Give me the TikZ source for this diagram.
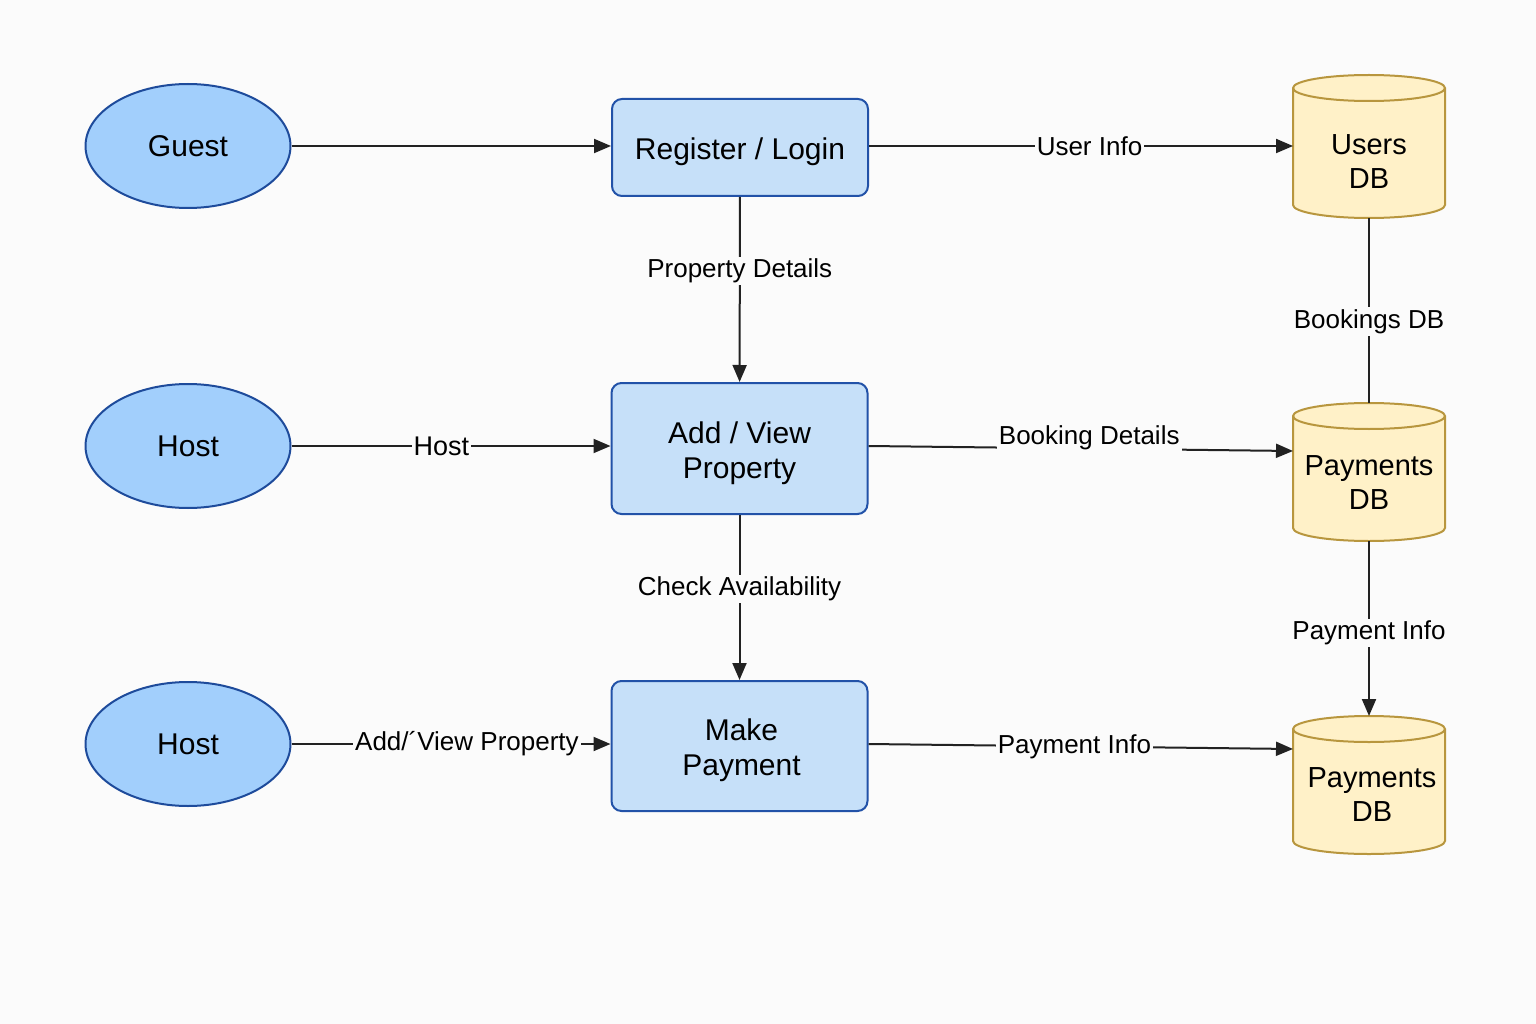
\documentclass[tikz,border=0pt]{standalone}
\usepackage{fontspec}
\setmainfont{Liberation Sans}
\usetikzlibrary{arrows.meta,shapes.geometric}
\definecolor{bg}{HTML}{FBFBFB}
\definecolor{entfill}{HTML}{A2CFFC}
\definecolor{entdraw}{HTML}{1E4B9B}
\definecolor{procfill}{HTML}{C6E0F9}
\definecolor{procdraw}{HTML}{2252A8}
\definecolor{dbfill}{HTML}{FFF1C8}
\definecolor{dbdraw}{HTML}{B8963E}
\definecolor{ln}{HTML}{222222}
\begin{document}
\begin{tikzpicture}[x=1pt,y=-1pt,
 entity/.style={ellipse, draw=entdraw, fill=entfill, line width=2pt, minimum width=205pt, minimum height=124pt, font=\fontsize{30}{35}\selectfont, inner sep=0pt},
 process/.style={rectangle, rounded corners=10pt, draw=procdraw, fill=procfill, line width=2pt, inner sep=0pt, minimum width=256pt},
 proctext/.style={font=\fontsize{30}{35}\selectfont, align=center, inner sep=0pt},
 dbbox/.style={rectangle, minimum width=152pt, inner sep=0pt, outer sep=0pt, draw=none},
 dbshape/.style={fill=dbfill, draw=dbdraw, line width=2pt},
 dbtext/.style={font=\fontsize{29}{34}\selectfont, align=center},
 flow/.style={draw=ln, line width=2pt, -{Triangle[length=17pt,width=14pt]}},
 plainline/.style={draw=ln, line width=2pt},
 lbl/.style={fill=bg, font=\fontsize{26}{31}\selectfont, inner sep=2pt}
]
\fill[bg] (0,0) rectangle (1536,1024);
\useasboundingbox (0,0) rectangle (1536,1024);

% external entities
\node[entity] (guest) at (188,146) {Guest};
\node[entity] (host1) at (188,446) {Host};
\node[entity] (host2) at (188,744) {Host};

% processes
\node[process, minimum height=97pt] (reg) at (740,147.5) {};
\node[process, minimum height=131pt] (addv) at (739.5,448.5) {};
\node[process, minimum height=130pt] (pay) at (739.5,746) {};
\node[proctext] (regt) at ([yshift=-4pt]reg.center) {Register / Login};
\node[proctext] (addvt) at ([yshift=-5pt]addv.center) {Add / View\\Property};
\node[proctext] (payt) at ([xshift=2pt,yshift=-4pt]pay.center) {Make\\Payment};

% data stores
\node[dbbox, minimum height=143pt] (users) at (1369,146.5) {};
\node[dbbox, minimum height=138pt] (pdb1) at (1369,472) {};
\node[dbbox, minimum height=138pt] (pdb2) at (1369,785) {};
\foreach \n in {users,pdb1,pdb2}{
  \filldraw[dbshape] ([yshift=-13pt]\n.north west) -- ([yshift=13pt]\n.south west)
    arc[start angle=180,end angle=360,x radius=76pt,y radius=13pt]
    -- ([yshift=-13pt]\n.north east)
    arc[start angle=0,end angle=180,x radius=76pt,y radius=13pt] -- cycle;
  \draw[draw=dbdraw, line width=2pt] ([yshift=-13pt]\n.north west)
    arc[start angle=180,end angle=360,x radius=76pt,y radius=13pt];
}
\node[dbtext] (userst) at ([yshift=-15pt]users.center) {Users\\DB};
\node[dbtext] (pdb1t) at ([yshift=-11pt]pdb1.center) {Payments\\DB};
\node[dbtext] (pdb2t) at ([xshift=3pt,yshift=-10pt]pdb2.center) {Payments\\DB};

\coordinate (bdin) at ([yshift=21pt]pdb1.west);
\coordinate (pdin) at ([yshift=36pt]pdb2.west);

% flows
\draw[flow] (guest.east) -- (reg.west |- guest.east);
\draw[flow] (reg.east |- guest.east) -- node[lbl, pos=0.52]{User Info} (users.west |- guest.east);
\draw[flow] (reg) -- node[lbl, pos=0.4]{Property Details} (addv);
\draw[plainline] (users) -- node[lbl, pos=0.56]{Bookings DB} (pdb1);
\draw[flow] (host1.east) -- node[lbl, pos=0.47, font=\fontsize{27}{32}\selectfont]{Host} (addv.west |- host1.east);
\draw[flow] (addv.east |- host1.east) -- node[lbl, pos=0.52, yshift=11pt, inner ysep=9pt]{Booking Details} (bdin);
\draw[flow] (addv) -- node[lbl, pos=0.45]{Check Availability} (pay);
\draw[flow] (pdb1) -- node[lbl, pos=0.526]{Payment Info} (pdb2);
\draw[flow] (host2.east) -- node[lbl, pos=0.55]{Add/´View Property} (pay.west |- host2.east);
\draw[flow] (pay.east |- host2.east) -- node[lbl, pos=0.485]{Payment Info} (pdin);
\end{tikzpicture}
\end{document}
